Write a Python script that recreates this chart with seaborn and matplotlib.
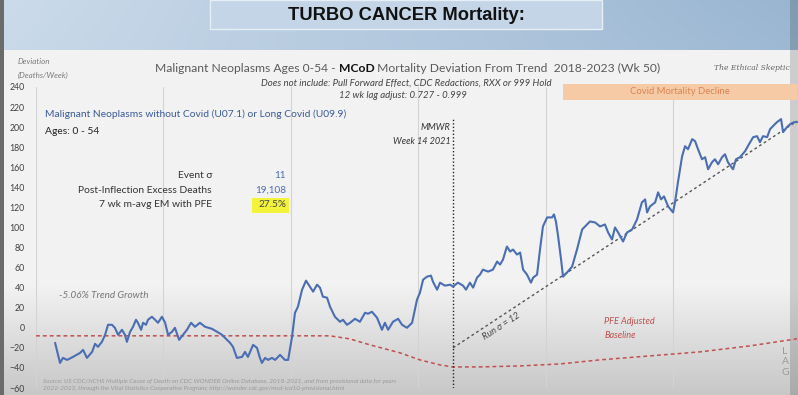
import numpy as np
import pandas as pd
import seaborn as sns
import matplotlib.pyplot as plt
from matplotlib.patches import Rectangle

# weekly deviation (deaths/week), x = weeks since start of 2018
weeks = [7.8, 9.8, 11.0, 12.7, 15.1, 18.0, 19.2, 20.8, 22.9, 24.1, 25.3, 26.9, 28.2, 29.4, 31.0, 32.2,
         33.5, 35.1, 36.3, 37.1, 38.4, 39.6, 40.8, 41.6, 42.9, 43.7, 44.9, 45.7, 47.3, 48.6, 49.8, 51.4,
         52.7, 53.9, 55.5, 56.7, 58.4, 60.0, 61.6, 63.3, 64.9, 66.9, 69.0, 71.8, 73.9, 75.9, 78.0, 79.2,
         80.4, 82.0, 84.1, 85.3, 86.5, 88.6, 90.2, 91.4, 92.2, 93.5, 94.7, 96.3, 97.6, 99.6, 101.6, 102.9,
         104.5, 105.7, 106.9, 108.6, 110.2, 111.8, 113.1, 114.7, 115.9, 117.1, 118.8, 120.0, 122.0, 124.1,
         125.3, 126.9, 128.2, 130.2, 132.2, 134.3, 135.5, 137.1, 139.2, 141.2, 142.4, 143.7, 145.7, 147.8,
         149.4, 151.4, 153.5, 155.5, 156.7, 158.0, 159.6, 161.2, 162.0, 163.7, 164.9, 166.9, 169.0, 170.2,
         172.2, 174.3, 175.5, 177.1, 178.4, 180.0, 181.2, 182.4, 184.5, 186.5, 188.2, 189.4, 190.6, 192.2,
         193.5, 194.7, 196.3, 197.6, 198.8, 200.4, 202.0, 202.9, 204.5, 205.7, 206.9, 208.6, 210.6, 211.4,
         212.2, 213.1, 214.3, 215.1, 216.7, 218.8, 220.8, 222.9, 224.1, 226.1, 228.2, 230.2, 232.2, 233.5,
         235.1, 236.3, 237.6, 239.6, 241.2, 243.3, 245.3, 247.3, 248.6, 249.4, 250.6, 252.7, 253.9, 255.1,
         256.3, 258.0, 260.0, 260.8, 262.0, 263.7, 264.9, 266.1, 267.8, 269.0, 270.2, 271.8, 273.1, 274.3,
         275.9, 277.1, 278.4, 280.0, 281.2, 282.4, 284.5, 285.7, 287.3, 289.4, 291.0, 292.7, 294.3, 295.5,
         296.7, 298.4, 299.6, 300.8, 302.4, 304.1, 304.9, 306.5, 307.8, 309.4, 310.6]
deviation = [-15, -35, -30, -32, -29, -25, -22, -30, -24, -16, -19, -14, -7, 3, 3, 0,
             -7, -2, -7, -14, -4, 1, 8, 5, -2, 5, 3, 8, 11, 8, 5, 11,
             5, -7, -4, 0, -12, -7, -2, 5, 1, 5, 1, -1, -4, -7, -12, -15,
             -19, -30, -29, -24, -29, -17, -20, -30, -35, -30, -32, -30, -32, -27, -32, -32,
             -9, 15, 21, 38, 47, 41, 36, 43, 40, 31, 30, 21, 11, 6,
             8, 3, 5, 9, 6, 15, 14, 16, 10, -2, 5, -2, 6, 9,
             3, 0, 5, 28, 35, 48, 51, 52, 46, 38, 45, 42, 43, 41,
             45, 42, 38, 45, 40, 50, 53, 58, 56, 58, 66, 63, 68, 81,
             76, 78, 73, 75, 58, 53, 45, 50, 53, 78, 101, 110, 110, 113,
             106, 91, 68, 51, 55, 61, 78, 98, 101, 106, 105, 101, 103, 95,
             88, 100, 95, 86, 95, 98, 108, 125, 128, 115, 121, 125, 135, 128,
             131, 121, 115, 125, 145, 171, 181, 178, 188, 186, 178, 168, 170, 158,
             165, 168, 163, 170, 173, 165, 158, 168, 170, 176, 183, 190, 191, 185,
             191, 190, 198, 201, 205, 208, 195, 200, 203, 205, 205]

# PFE adjusted baseline
base_weeks = [0, 120, 128, 136.3, 148.6, 156.7, 164.9, 170, 181, 197.6, 214, 230, 250.6, 271, 291.4, 310.6]
base_values = [-8, -8, -11, -17, -25, -32, -37, -39, -39, -38, -36, -32, -28, -24, -18, -11]

# run trend line
run_weeks = [170.2, 310.6]
run_values = [-20, 206]

year_starts = [0, 52, 104, 156, 208, 260]
mmwr_week = 170.2

W, H = 798, 395


def fx(x):
    return x / W


def fy(y):
    return 1 - y / H


sns.set_style("white")
plt.rcParams['font.family'] = ['Lato', 'DejaVu Sans']

fig = plt.figure(figsize=(W / 100, H / 100), dpi=100)

# background: sky band on top, light panel fading to grey at the bottom
bg = fig.add_axes([0, 0, 1, 1], zorder=-5)
bg.axis('off')
yy = np.arange(H)[:, None] * np.ones((1, W))
xx = np.ones((H, 1)) * np.arange(W)[None, :]
sky_top = np.array([0.80, 0.86, 0.92])
sky_right = np.array([0.60, 0.71, 0.82])
t = (xx / W)[..., None]
sky = sky_top * (1 - t) + sky_right * t
sky = sky * (1 - 0.15 * (yy / 50)[..., None]) + 0.15 * (yy / 50)[..., None] * np.array([0.72, 0.80, 0.88])
panel_top = np.array([0.95, 0.95, 0.95])
panel_bot = np.array([0.78, 0.78, 0.78])
g = np.clip((yy - 285) / 110, 0, 1)[..., None]
panel = panel_top * (1 - g) + panel_bot * g
img = np.where((yy < 50)[..., None], sky, panel)
img[:, :4] = [0.42, 0.42, 0.42]
img[:, 790:] = img[:, 790:] * 0.85
bg.imshow(img, extent=[0, 1, 0, 1], aspect='auto')

# title box
fig.patches.append(Rectangle((fx(210), fy(29)), (602 - 210) / W, 29 / H, transform=fig.transFigure,
                             facecolor='#c3d5e6', edgecolor='#e6eef6', linewidth=1, zorder=-1))
fig.text(fx(406), fy(15), 'TURBO CANCER Mortality:', ha='center', va='center', fontsize=13.2,
         fontweight='bold', family='Liberation Sans', color='#111111')

# main chart
ax = fig.add_axes([fx(36), fy(388), (W - 36) / W, (388 - 87) / H])
ax.patch.set_alpha(0)
for x0 in year_starts:
    ax.axvline(x0, color='#d3d3d3', linewidth=0.8, zorder=0)

df = pd.DataFrame({'week': weeks, 'deviation': deviation})
sns.lineplot(data=df, x='week', y='deviation', ax=ax, color='#4a6db3', linewidth=1.5, zorder=4)
ax.plot(base_weeks, base_values, color='#c0504d', linestyle=(0, (2.5, 2)), linewidth=1.1, zorder=3)
ax.plot(run_weeks, run_values, color='#555555', linestyle=(0, (2, 2)), linewidth=1.0, zorder=3)
ax.axvline(mmwr_week, ymax=(208 + 60) / 300, color='#222222', linestyle=(0, (1, 1.5)), linewidth=1.0, zorder=3)

ax.set_xlim(0, 311)
ax.set_ylim(-60, 240)
ax.set_yticks(range(-60, 241, 20))
ax.set_xticks([])
ax.tick_params(axis='y', length=0, pad=8, labelsize=6.3, labelcolor='#404040')
ax.set_xlabel('')
ax.set_ylabel('')
sns.despine(ax=ax, left=True, bottom=True)

# headings
fig.text(fx(18), fy(62), 'Deviation', fontsize=5.8, style='italic', color='#7a7a7a', va='center')
fig.text(fx(18), fy(75), '(Deaths/Week)', fontsize=5.8, style='italic', color='#7a7a7a', va='center')
t1 = fig.text(fx(155), fy(69), 'Malignant Neoplasms Ages 0-54 - ', fontsize=8.7, color='#5a5a5a', va='center')
t2 = ax.annotate('MCoD', xycoords=t1, xy=(1, 0), va='bottom', fontsize=8.7, color='#111111',
                 fontweight='bold', annotation_clip=False)
ax.annotate(' Mortality Deviation From Trend  2018-2023 (Wk 50)', xycoords=t2, xy=(1, 0), va='bottom',
            fontsize=8.7, color='#5a5a5a', annotation_clip=False)
fig.text(fx(552), fy(83), 'Does not include: Pull Forward Effect, CDC Redactions, RXX or 999 Hold',
         fontsize=6.9, style='italic', color='#444444', ha='right', va='center')
fig.text(fx(467), fy(96), '12 wk lag adjust: 0.727 - 0.999', fontsize=6.9, style='italic',
         color='#444444', ha='right', va='center')
fig.text(fx(752), fy(68), 'The Ethical Skeptic', fontsize=5.5, style='italic', family='DejaVu Serif',
         color='#666666', ha='center', va='center')

# covid mortality decline banner
fig.patches.append(Rectangle((fx(563), fy(100)), (797 - 563) / W, 16 / H, transform=fig.transFigure,
                             facecolor='#f7caa6', edgecolor='none', zorder=1))
fig.text(fx(680), fy(92), 'Covid Mortality Decline', fontsize=6.8, color='#d9834f', ha='center', va='center')

# legend-like labels
fig.text(fx(45), fy(114), 'Malignant Neoplasms without Covid (U07.1) or Long Covid (U09.9)', fontsize=7.4,
         color='#3a5a9c', va='center')
fig.text(fx(45), fy(131), 'Ages: 0 - 54', fontsize=7.4, color='#222222', va='center')

# stats block
labels = ['Event σ', 'Post-Inflection Excess Deaths', '7 wk m-avg EM with PFE']
values = ['11', '19,108', '27.5%']
for i, (lab, val) in enumerate(zip(labels, values)):
    y = 176 + i * 14.3
    fig.text(fx(212), fy(y), lab, fontsize=7.4, color='#333333', ha='right', va='center')
    fig.text(fx(286), fy(y), val, fontsize=7.2, color='#4a6db3' if i < 2 else '#444444',
             ha='right', va='center')
fig.patches.append(Rectangle((fx(252), fy(213)), 37 / W, 15 / H, transform=fig.transFigure,
                             facecolor='#f3f33a', edgecolor='none', zorder=0))

# annotations in data coordinates
ax.text(mmwr_week - 1, 200, 'MMWR', fontsize=6.6, style='italic', color='#333333', ha='right', va='center')
ax.text(mmwr_week - 1, 186, 'Week 14 2021', fontsize=6.6, style='italic', color='#333333',
        ha='right', va='center')
ax.text(9.5, 32, '-5.06% Trend Growth', fontsize=7.1, style='italic', color='#777777', va='center')
ax.text(190, 1, 'Run σ = 12', fontsize=6.6, style='italic', color='#444444', rotation=33,
        ha='center', va='center', rotation_mode='anchor')
ax.text(232, 6, 'PFE Adjusted', fontsize=6.6, style='italic', color='#c0504d', va='center')
ax.text(232, -8, 'Baseline', fontsize=6.6, style='italic', color='#c0504d', va='center')
fig.text(fx(785), fy(362), 'L\nA\nG', fontsize=7.5, color='#9a9a9a', ha='center', va='center',
         linespacing=1.25)

fig.text(fx(43), fy(385), 'Source: US CDC/NCHS Multiple Cause of Death on CDC WONDER Online Database, '
         '2018-2021, and from provisional data for years\n2022-2023, through the Vital Statistics '
         'Cooperative Program; http://wonder.cdc.gov/mcd-icd10-provisional.html',
         fontsize=4.6, style='italic', color='#9a9a9a', va='center', linespacing=1.3)

fig.savefig('out.png', dpi=100)
